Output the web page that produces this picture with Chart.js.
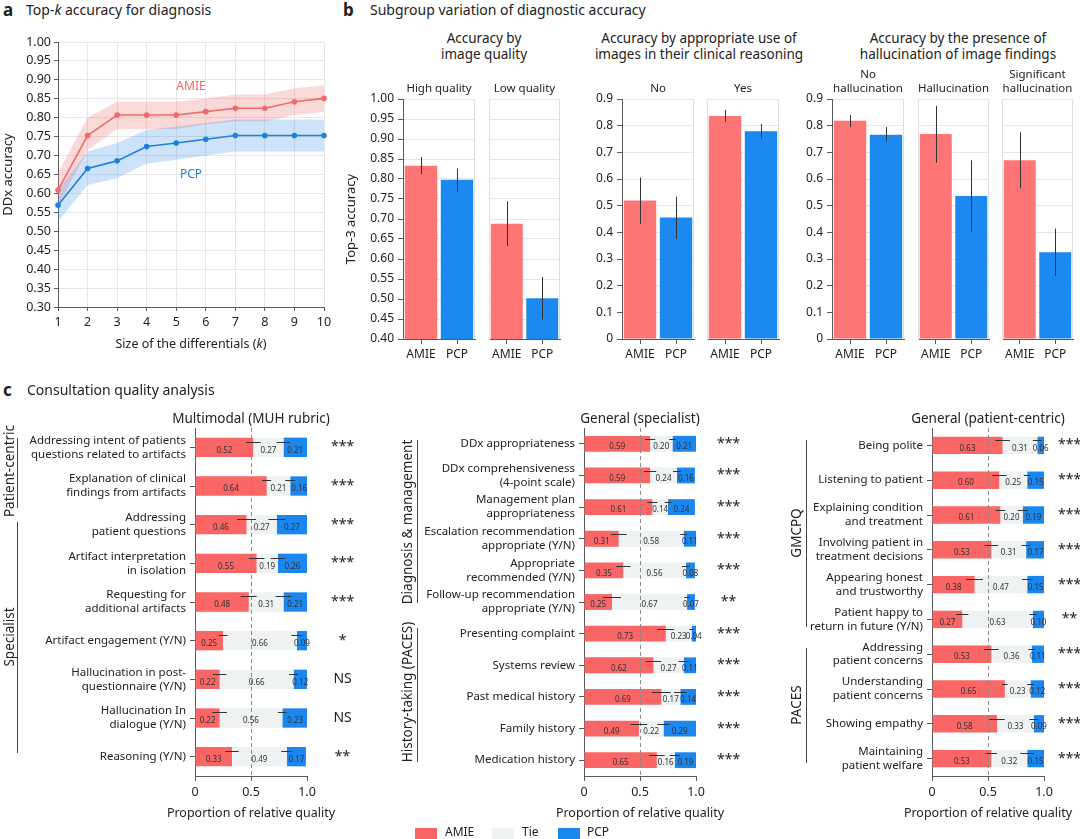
<!DOCTYPE html>
<html>
<head>
<meta charset="utf-8">
<title>AMIE vs PCP</title>
<script src="https://cdn.jsdelivr.net/npm/chart.js@4.4.1/dist/chart.umd.min.js"></script>
<style>
  html, body { margin: 0; padding: 0; background: #fff; }
  body { width: 1080px; height: 839px; position: relative; overflow: hidden;
         font-family: 'Noto Sans', sans-serif; color: #222; }
  canvas { position: absolute; }
  .txt { position: absolute; white-space: nowrap; line-height: 1.2; }
  .bar { position: absolute; }
</style>
</head>
<body>
<script>
// ---------- panel a : top-k accuracy ----------
const kValues = ['1', '2', '3', '4', '5', '6', '7', '8', '9', '10'];
const amieTopK     = [0.609, 0.753, 0.807, 0.807, 0.807, 0.816, 0.825, 0.825, 0.842, 0.851];
const amieTopKLow  = [0.566, 0.714, 0.770, 0.770, 0.770, 0.782, 0.790, 0.790, 0.807, 0.816];
const amieTopKHigh = [0.654, 0.800, 0.842, 0.842, 0.842, 0.851, 0.861, 0.861, 0.878, 0.885];
const pcpTopK      = [0.569, 0.666, 0.686, 0.724, 0.733, 0.743, 0.753, 0.753, 0.753, 0.753];
const pcpTopKLow   = [0.526, 0.622, 0.640, 0.679, 0.689, 0.700, 0.711, 0.711, 0.711, 0.711];
const pcpTopKHigh  = [0.610, 0.711, 0.733, 0.768, 0.777, 0.786, 0.795, 0.795, 0.795, 0.795];

// ---------- panel b : subgroup top-3 accuracy ----------
const qualityFacets = [['High quality'], ['Low quality']];
const qualityAmie   = [0.833, 0.688];
const qualityAmieLo = [0.812, 0.633];
const qualityAmieHi = [0.855, 0.744];
const qualityPcp    = [0.798, 0.502];
const qualityPcpLo  = [0.768, 0.449];
const qualityPcpHi  = [0.826, 0.555];

const useFacets = [['No'], ['Yes']];
const useAmie   = [0.519, 0.836];
const useAmieLo = [0.431, 0.815];
const useAmieHi = [0.606, 0.859];
const usePcp    = [0.456, 0.779];
const usePcpLo  = [0.376, 0.753];
const usePcpHi  = [0.534, 0.806];

const hallFacets = [['No', 'hallucination'], ['Hallucination'], ['Significant', 'hallucination']];
const hallAmie   = [0.818, 0.769, 0.670];
const hallAmieLo = [0.795, 0.661, 0.565];
const hallAmieHi = [0.840, 0.874, 0.775];
const hallPcp    = [0.766, 0.536, 0.325];
const hallPcpLo  = [0.740, 0.403, 0.236];
const hallPcpHi  = [0.795, 0.670, 0.414];

// ---------- panel c : consultation quality ----------
const muhLabels = [
  ['Addressing intent of patients', 'questions related to artifacts'],
  ['Explanation of clinical', 'findings from artifacts'],
  ['Addressing', 'patient questions'],
  ['Artifact interpretation', 'in isolation'],
  ['Requesting for', 'additional artifacts'],
  'Artifact engagement (Y/N)',
  ['Hallucination in post-', 'questionnaire (Y/N)'],
  ['Hallucination In', 'dialogue (Y/N)'],
  'Reasoning (Y/N)'
];
const muhAmie = [0.52, 0.64, 0.46, 0.55, 0.48, 0.25, 0.22, 0.22, 0.33];
const muhTie  = [0.27, 0.21, 0.27, 0.19, 0.31, 0.66, 0.66, 0.56, 0.49];
const muhPcp  = [0.21, 0.16, 0.27, 0.26, 0.21, 0.09, 0.12, 0.23, 0.17];
const muhErrA = [0.065, 0.040, 0.085, 0.070, 0.070, 0.040, 0.060, 0.065, 0.060];
const muhErrT = [0.060, 0.045, 0.075, 0.065, 0.070, 0.050, 0.040, 0.040, 0.050];
const muhSig  = ['***', '***', '***', '***', '***', '*', 'NS', 'NS', '**'];

const specLabels = [
  'DDx appropriateness',
  ['DDx comprehensiveness', '(4-point scale)'],
  ['Management plan', 'appropriateness'],
  ['Escalation recommendation', 'appropriate (Y/N)'],
  ['Appropriate', 'recommended (Y/N)'],
  ['Follow-up recommendation', 'appropriate (Y/N)'],
  'Presenting complaint',
  'Systems review',
  'Past medical history',
  'Family history',
  'Medication history'
];
const specAmie = [0.59, 0.59, 0.61, 0.31, 0.35, 0.25, 0.73, 0.62, 0.69, 0.49, 0.65];
const specTie  = [0.20, 0.24, 0.14, 0.58, 0.56, 0.67, 0.23, 0.27, 0.17, 0.22, 0.16];
const specPcp  = [0.21, 0.16, 0.24, 0.11, 0.08, 0.07, 0.04, 0.11, 0.14, 0.29, 0.19];
const specErrA = [0.045, 0.055, 0.045, 0.070, 0.065, 0.080, 0.075, 0.070, 0.085, 0.075, 0.070];
const specErrT = [0.030, 0.035, 0.030, 0.030, 0.035, 0.025, 0.020, 0.045, 0.055, 0.055, 0.045];
const specSig  = ['***', '***', '***', '***', '***', '**', '***', '***', '***', '***', '***'];

const pcLabels = [
  'Being polite',
  'Listening to patient',
  ['Explaining condition', 'and treatment'],
  ['Involving patient in', 'treatment decisions'],
  ['Appearing honest', 'and trustworthy'],
  ['Patient happy to', 'return in future (Y/N)'],
  ['Addressing', 'patient concerns'],
  ['Understanding', 'patient concerns'],
  'Showing empathy',
  ['Maintaining', 'patient welfare']
];
const pcAmie = [0.63, 0.60, 0.61, 0.53, 0.38, 0.27, 0.53, 0.65, 0.58, 0.53];
const pcTie  = [0.31, 0.25, 0.20, 0.31, 0.47, 0.63, 0.36, 0.23, 0.33, 0.32];
const pcPcp  = [0.06, 0.15, 0.19, 0.17, 0.15, 0.10, 0.11, 0.12, 0.09, 0.15];
const pcErrA = [0.065, 0.065, 0.045, 0.060, 0.075, 0.055, 0.065, 0.025, 0.070, 0.050];
const pcErrT = [0.040, 0.030, 0.045, 0.040, 0.045, 0.030, 0.030, 0.030, 0.040, 0.060];
const pcSig  = ['***', '***', '***', '***', '***', '**', '***', '***', '***', '***'];

// ---------- look ----------
const FONT = "'Noto Sans', sans-serif";
const INK = '#222';
const GRID = '#E6E6E6';
const FRAME = '#E0E0E0';
const AXIS = '#5A5A5A';
const LINE_RED = '#F06A6A', BAND_RED = 'rgba(246,120,120,0.28)';
const LINE_BLUE = '#1F80DD', BAND_BLUE = 'rgba(40,140,232,0.24)';
const BAR_RED = '#FF7474', BAR_BLUE = '#1C89F0';
const Q_RED = '#FA6565', Q_TIE = '#EEF2F2', Q_BLUE = '#1A86EF';

Chart.defaults.font.family = FONT;
Chart.defaults.color = INK;
Chart.defaults.animation = false;
Chart.defaults.responsive = false;
Chart.defaults.plugins.legend.display = false;
Chart.defaults.plugins.tooltip.enabled = false;

function makeCanvas(x, y, w, h) {
  const c = document.createElement('canvas');
  c.width = w; c.height = h;
  Object.assign(c.style, { left: x + 'px', top: y + 'px', width: w + 'px', height: h + 'px' });
  document.body.appendChild(c);
  return c;
}

// force an axis box to a fixed size so plot areas land where the figure has them
const fit = size => s => {
  if (s.isHorizontal()) s.height = size; else s.width = size;
  s.paddingLeft = s.paddingRight = s.paddingTop = s.paddingBottom = 0;
};

function put(html, x, y, o = {}) {
  const d = document.createElement('div');
  d.className = 'txt';
  d.innerHTML = html;
  Object.assign(d.style, { left: x + 'px', top: y + 'px', fontSize: (o.size || 13) + 'px',
                           textAlign: o.left ? 'left' : 'center' });
  if (o.bold) d.style.fontWeight = 700;
  if (o.color) d.style.color = o.color;
  const tx = o.left ? '0' : '-50%';
  const ty = o.bottom ? '-100%' : '-50%';
  d.style.transform = `translate(${tx},${ty})` + (o.rot ? ' rotate(-90deg)' : '');
  document.body.appendChild(d);
}

function block(x, y, w, h, color) {
  const d = document.createElement('div');
  d.className = 'bar';
  Object.assign(d.style, { left: x + 'px', top: y + 'px', width: w + 'px', height: h + 'px', background: color });
  document.body.appendChild(d);
}

// ---------- plugins ----------
const lineTags = {
  id: 'lineTags',
  afterDatasetsDraw(chart) {
    const { ctx, scales: { x, y } } = chart;
    const mid = (x.getPixelForValue(4) + x.getPixelForValue(5)) / 2;
    ctx.save();
    ctx.font = `12px ${FONT}`;
    ctx.textAlign = 'center';
    ctx.textBaseline = 'middle';
    ctx.fillStyle = LINE_RED;
    ctx.fillText('AMIE', mid, y.getPixelForValue(0.881));
    ctx.fillStyle = LINE_BLUE;
    ctx.fillText('PCP', mid, y.getPixelForValue(0.651));
    ctx.restore();
  }
};

const frameRight = {
  id: 'frameRight',
  beforeDatasetsDraw(chart) {
    const { ctx, chartArea: a } = chart;
    ctx.save();
    ctx.strokeStyle = FRAME;
    ctx.lineWidth = 1;
    ctx.beginPath();
    ctx.moveTo(a.right - 0.5, a.top);
    ctx.lineTo(a.right - 0.5, a.bottom);
    ctx.stroke();
    ctx.restore();
  }
};

const whisker = {
  id: 'whisker',
  afterDatasetsDraw(chart, args, opts) {
    const { ctx, scales: { y } } = chart;
    ctx.save();
    ctx.strokeStyle = '#333';
    ctx.lineWidth = 1;
    chart.getDatasetMeta(0).data.forEach((bar, i) => {
      const x = Math.round(bar.x) + 0.5;
      ctx.beginPath();
      ctx.moveTo(x, y.getPixelForValue(opts.lo[i]));
      ctx.lineTo(x, y.getPixelForValue(opts.hi[i]));
      ctx.stroke();
    });
    ctx.restore();
  }
};

const rowMarks = {
  id: 'rowMarks',
  afterDatasetsDraw(chart, args, o) {
    const { ctx, chartArea: a, scales: { x } } = chart;
    ctx.save();
    // dashed line at 0.5
    const xm = Math.round(x.getPixelForValue(0.5)) + 0.5;
    ctx.strokeStyle = '#8A8A8A';
    ctx.lineWidth = 1;
    ctx.setLineDash([4, 3]);
    ctx.beginPath();
    ctx.moveTo(xm, a.top);
    ctx.lineTo(xm, a.bottom);
    ctx.stroke();
    ctx.setLineDash([]);
    // numbers inside the segments
    ctx.font = `8px ${FONT}`;
    ctx.fillStyle = '#333';
    ctx.textAlign = 'center';
    ctx.textBaseline = 'middle';
    chart.data.datasets.forEach((ds, d) => {
      chart.getDatasetMeta(d).data.forEach((bar, i) => {
        ctx.fillText(ds.data[i].toFixed(2), (bar.x + bar.base) / 2, bar.y + 3);
      });
    });
    // error whiskers at AMIE end and AMIE+Tie end
    ctx.strokeStyle = '#333';
    chart.getDatasetMeta(0).data.forEach((bar, i) => {
      const yy = Math.round(bar.y - bar.height * 0.3) + 0.5;
      [[o.amie[i], o.errA[i]], [o.amie[i] + o.tie[i], o.errT[i]]].forEach(([c, e]) => {
        ctx.beginPath();
        ctx.moveTo(x.getPixelForValue(c - e), yy);
        ctx.lineTo(x.getPixelForValue(c + e), yy);
        ctx.stroke();
      });
    });
    ctx.restore();
  }
};

// ---------- panel a ----------
put('a', 3, 10, { left: true, bold: true, size: 17 });
put('Top-<i>k</i> accuracy for diagnosis', 26, 10, { left: true, size: 14 });

new Chart(makeCanvas(0, 30, 340, 330), {
  type: 'line',
  data: {
    labels: kValues,
    datasets: [
      { data: amieTopK, borderColor: LINE_RED, backgroundColor: LINE_RED, borderWidth: 1.6, pointRadius: 2, order: 0 },
      { data: pcpTopK, borderColor: LINE_BLUE, backgroundColor: LINE_BLUE, borderWidth: 1.6, pointRadius: 2, order: 0 },
      { data: amieTopKHigh, fill: '+1', backgroundColor: BAND_RED, borderWidth: 0, pointRadius: 0, order: 2 },
      { data: amieTopKLow, fill: false, borderWidth: 0, pointRadius: 0, order: 2 },
      { data: pcpTopKHigh, fill: '+1', backgroundColor: BAND_BLUE, borderWidth: 0, pointRadius: 0, order: 1 },
      { data: pcpTopKLow, fill: false, borderWidth: 0, pointRadius: 0, order: 1 }
    ]
  },
  options: {
    layout: { padding: { top: 12, right: 16, left: 0, bottom: 0 } },
    scales: {
      x: {
        grid: { color: GRID, tickColor: AXIS, tickLength: 4 },
        border: { color: AXIS },
        ticks: { font: { size: 12.5 }, padding: 4, maxRotation: 0 },
        afterFit: fit(53)
      },
      y: {
        min: 0.3, max: 1.0,
        ticks: { stepSize: 0.05, callback: v => v.toFixed(2), font: { size: 12.5 }, padding: 3 },
        grid: { color: GRID, tickColor: AXIS, tickLength: 4 },
        border: { color: AXIS },
        title: { display: true, text: 'DDx accuracy', font: { size: 13 }, padding: 0 },
        afterFit: fit(58)
      }
    }
  },
  plugins: [lineTags]
});
put('Size of the differentials (<i>k</i>)', 191, 343, { size: 12.5 });

// ---------- panel b ----------
put('b', 343, 10, { left: true, bold: true, size: 17 });
put('Subgroup variation of diagnostic accuracy', 370, 10, { left: true, size: 14 });

function facet(p) {
  const yW = p.yW || 0;
  const left = p.left - yW, top = p.top - 8;
  const width = p.right - left + 2, height = p.bottom + 26 - top;
  const showY = yW > 0;
  new Chart(makeCanvas(left, top, width, height), {
    type: 'bar',
    data: {
      labels: ['AMIE', 'PCP'],
      datasets: [{ data: [p.amie, p.pcp], backgroundColor: [BAR_RED, BAR_BLUE], barPercentage: 0.9, categoryPercentage: 1 }]
    },
    options: {
      layout: { padding: { top: 8, right: 2, left: 0, bottom: 0 } },
      plugins: { whisker: { lo: [p.amieLo, p.pcpLo], hi: [p.amieHi, p.pcpHi] } },
      scales: {
        x: {
          grid: { drawOnChartArea: false, offset: false, tickLength: 5, tickColor: AXIS },
          border: { color: AXIS },
          ticks: { font: { size: 12 }, padding: 3, maxRotation: 0 },
          afterFit: fit(26)
        },
        y: {
          min: p.min, max: p.max,
          ticks: { display: showY, stepSize: p.step, callback: p.fmt, font: { size: 12 }, padding: 4 },
          grid: { color: GRID, drawTicks: showY, tickLength: 5, tickColor: AXIS },
          border: { color: showY ? AXIS : FRAME },
          title: { display: !!p.title, text: p.title || '', font: { size: 13 }, padding: 0 },
          afterFit: fit(yW)
        }
      }
    },
    plugins: [frameRight, whisker]
  });
  put(p.name.join('<br>'), (p.left + p.right) / 2, 95, { size: 11.5, bottom: true });
}

const fmt2 = v => v.toFixed(2);
const fmt1 = v => (Math.abs(v) < 1e-9 ? '0' : v.toFixed(1));

put('Accuracy by<br>image quality', 484, 46, { size: 13.5 });
[[403, 475], [489, 560]].forEach(([l, r], i) => facet({
  left: l, right: r, top: 99, bottom: 339, min: 0.4, max: 1.0, step: 0.05, fmt: fmt2,
  yW: i === 0 ? 60 : 0, title: i === 0 ? 'Top-3 accuracy' : '',
  name: qualityFacets[i], amie: qualityAmie[i], pcp: qualityPcp[i],
  amieLo: qualityAmieLo[i], amieHi: qualityAmieHi[i], pcpLo: qualityPcpLo[i], pcpHi: qualityPcpHi[i]
}));

put('Accuracy by appropriate use of<br>images in their clinical reasoning', 699, 46, { size: 13.5 });
[[622, 694], [707, 779]].forEach(([l, r], i) => facet({
  left: l, right: r, top: 99, bottom: 339, min: 0, max: 0.9, step: 0.1, fmt: fmt1,
  yW: i === 0 ? 30 : 0,
  name: useFacets[i], amie: useAmie[i], pcp: usePcp[i],
  amieLo: useAmieLo[i], amieHi: useAmieHi[i], pcpLo: usePcpLo[i], pcpHi: usePcpHi[i]
}));

put('Accuracy by the presence of<br>hallucination of image findings', 958, 46, { size: 13.5 });
[[832, 904], [918, 989], [1002, 1073]].forEach(([l, r], i) => facet({
  left: l, right: r, top: 99, bottom: 339, min: 0, max: 0.9, step: 0.1, fmt: fmt1,
  yW: i === 0 ? 30 : 0,
  name: hallFacets[i], amie: hallAmie[i], pcp: hallPcp[i],
  amieLo: hallAmieLo[i], amieHi: hallAmieHi[i], pcpLo: hallPcpLo[i], pcpHi: hallPcpHi[i]
}));

// ---------- panel c ----------
put('c', 3, 390, { left: true, bold: true, size: 17 });
put('Consultation quality analysis', 27, 390, { left: true, size: 14 });

function quality(p) {
  const top = 400, bottom = 824, plotTop = 428, plotBottom = 776, sigW = 48;
  new Chart(makeCanvas(p.cl, top, p.cr - p.cl, bottom - top), {
    type: 'bar',
    data: {
      labels: p.labels,
      datasets: [
        { label: 'AMIE', data: p.amie, backgroundColor: Q_RED },
        { label: 'Tie', data: p.tie, backgroundColor: Q_TIE },
        { label: 'PCP', data: p.pcp, backgroundColor: Q_BLUE }
      ]
    },
    options: {
      indexAxis: 'y',
      datasets: { bar: { barPercentage: 0.5, categoryPercentage: 1 } },
      layout: { padding: { top: plotTop - top, right: p.cr - p.pr - sigW, left: 0, bottom: 0 } },
      plugins: { rowMarks: { amie: p.amie, tie: p.tie, errA: p.errA, errT: p.errT } },
      scales: {
        x: {
          stacked: true, min: 0, max: 1,
          ticks: { stepSize: 0.5, callback: v => (v === 0 ? '0' : v.toFixed(1)), font: { size: 12.5 }, padding: 4 },
          grid: { drawOnChartArea: false, tickLength: 5, tickColor: AXIS },
          border: { color: AXIS },
          afterFit: fit(bottom - plotBottom)
        },
        y: {
          stacked: true,
          grid: { drawOnChartArea: false, offset: false, tickLength: 5, tickColor: AXIS },
          border: { color: AXIS },
          ticks: { font: { size: 11.5 }, padding: 4, autoSkip: false },
          afterFit: fit(p.pl - p.cl)
        },
        y2: {
          type: 'category', labels: p.sig, position: 'right', offset: true,
          grid: { display: false }, border: { display: false },
          ticks: { font: { size: 14 }, crossAlign: 'center', padding: p.sigPad, autoSkip: false },
          afterFit: fit(sigW)
        }
      }
    },
    plugins: [rowMarks]
  });
  put(p.title, (p.pl + p.pr) / 2, 418, { size: 13.5 });
  put('Proportion of relative quality', (p.pl + p.pr) / 2, 812, { size: 12.5 });
}

quality({ cl: 22, cr: 360, pl: 195, pr: 307, sigPad: 16, title: 'Multimodal (MUH rubric)',
  labels: muhLabels, amie: muhAmie, tie: muhTie, pcp: muhPcp, errA: muhErrA, errT: muhErrT, sig: muhSig });
quality({ cl: 395, cr: 745, pl: 584, pr: 696, sigPad: 13, title: 'General (specialist)',
  labels: specLabels, amie: specAmie, tie: specTie, pcp: specPcp, errA: specErrA, errT: specErrT, sig: specSig });
quality({ cl: 790, cr: 1092, pl: 932, pr: 1044, sigPad: 6, title: 'General (patient-centric)',
  labels: pcLabels, amie: pcAmie, tie: pcTie, pcp: pcPcp, errA: pcErrA, errT: pcErrT, sig: pcSig });

// row group brackets
put('Patient-centric', 9, 471, { size: 13.5, rot: true });
block(17, 438, 1, 70, '#444');
put('Specialist', 9, 637, { size: 13.5, rot: true });
block(17, 522, 1, 231, '#444');

put('Diagnosis &amp; management', 407, 522, { size: 13.5, rot: true });
block(417, 440, 1, 163, '#444');
put('History-taking (PACES)', 407, 692, { size: 13.5, rot: true });
block(417, 628, 1, 134, '#444');

put('GMCPQ', 796, 533, { size: 13.5, rot: true });
block(806, 440, 1, 187, '#444');
put('PACES', 796, 705, { size: 13.5, rot: true });
block(806, 648, 1, 115, '#444');

// legend
block(415, 828, 22, 11, Q_RED);
put('AMIE', 445, 832, { left: true, size: 12 });
block(492, 828, 22, 11, Q_TIE);
put('Tie', 522, 832, { left: true, size: 12 });
block(558, 828, 22, 11, Q_BLUE);
put('PCP', 587, 832, { left: true, size: 12 });
</script>
</body>
</html>
